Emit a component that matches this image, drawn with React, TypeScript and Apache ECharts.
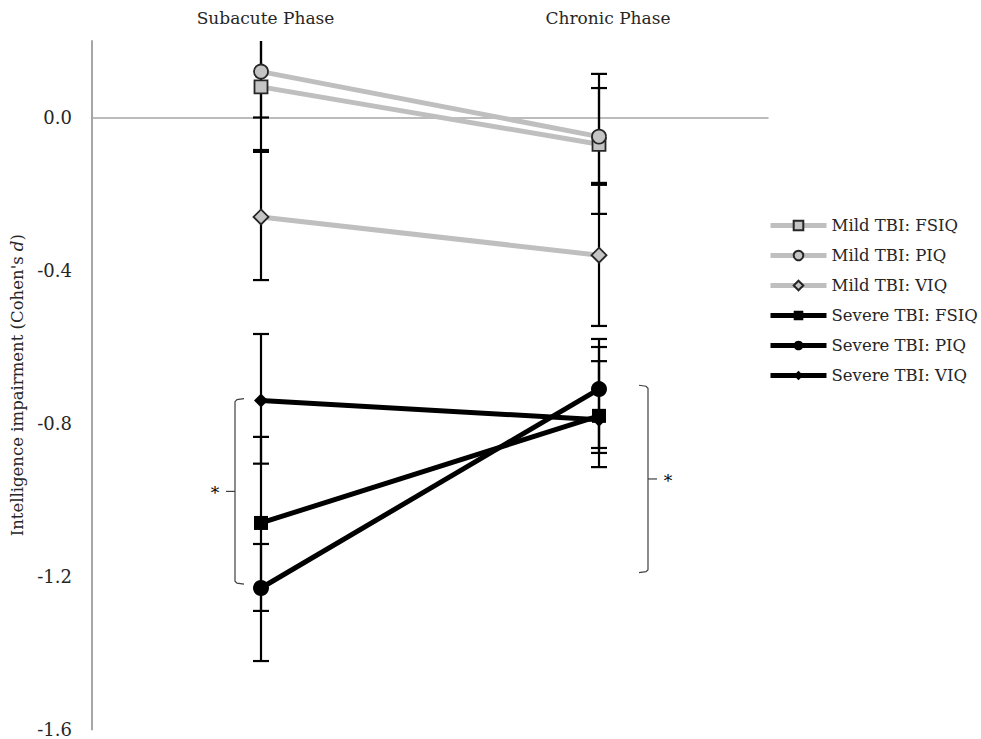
import React, { useEffect, useRef } from "react";
import * as echarts from "echarts";

const categories = ["Subacute Phase", "Chronic Phase"];
const yTicks = [-1.6, -1.2, -0.8, -0.4, 0.0];

const seriesNames = [
  "Mild TBI: FSIQ",
  "Mild TBI: PIQ",
  "Mild TBI: VIQ",
  "Severe TBI: FSIQ",
  "Severe TBI: PIQ",
  "Severe TBI: VIQ",
];

const mildFSIQ = [0.08, -0.07];
const mildPIQ = [0.12, -0.05];
const mildVIQ = [-0.26, -0.36];
const severeFSIQ = [-1.06, -0.78];
const severePIQ = [-1.23, -0.71];
const severeVIQ = [-0.74, -0.79];

// [upper, lower] per phase
const mildFSIQErr = [[0.245, -0.085], [0.114, -0.252]];
const mildPIQErr = [[0.24, 0.0], [0.077, -0.176]];
const mildVIQErr = [[-0.09, -0.425], [-0.171, -0.545]];
const severeFSIQErr = [[-0.835, -1.29], [-0.637, -0.914]];
const severePIQErr = [[-1.115, -1.421], [-0.579, -0.877]];
const severeVIQErr = [[-0.566, -0.905], [-0.6, -0.864]];

// significance brackets: [phase index, top value, bottom value]
const brackets = [
  [0, -0.735, -1.22],
  [1, -0.70, -1.19],
];
const bracketLabel = "*";

const FONT = "DejaVu Serif";
const TEXT = "#262626";

export default function App() {
  const ref = useRef<HTMLDivElement>(null);
  useEffect(() => {
    if (!ref.current) return;
    const chart = echarts.init(ref.current, undefined, { renderer: "svg" });

    const values = [mildFSIQ, mildPIQ, mildVIQ, severeFSIQ, severePIQ, severeVIQ];
    const errs = [mildFSIQErr, mildPIQErr, mildVIQErr, severeFSIQErr, severePIQErr, severeVIQErr];
    const symbols = ["rect", "circle", "diamond", "rect", "circle", "diamond"];
    const sizes = [13, 14, 15, 14, 16, 14];

    const lineSeries = values.map((v, i) => {
      const mild = i < 3;
      return {
        name: seriesNames[i],
        type: "line",
        data: v,
        symbol: symbols[i],
        symbolSize: sizes[i],
        z: mild ? 3 : 4,
        lineStyle: { color: mild ? "#bfbfbf" : "#000000", width: 5 },
        itemStyle: mild
          ? { color: "#c4c4c4", borderColor: "#262626", borderWidth: 1.8 }
          : { color: "#000000", borderColor: "#000000", borderWidth: 0 },
      };
    });

    const errData: number[][] = [];
    errs.forEach((e) => e.forEach((pair, ci) => errData.push([ci, pair[0], pair[1]])));

    const errSeries = {
      type: "custom",
      name: "err",
      z: 2,
      data: errData,
      encode: { x: 0, y: [1, 2] },
      renderItem: (params: any, api: any) => {
        const x = api.value(0);
        const pHi = api.coord([x, api.value(1)]);
        const pLo = api.coord([x, api.value(2)]);
        const cs = params.coordSys;
        const top = cs.y;
        const bottom = cs.y + cs.height;
        const px = pHi[0];
        const style = { stroke: "#000", lineWidth: 2.2 };
        const children: any[] = [
          {
            type: "line",
            shape: { x1: px, y1: Math.max(pHi[1], top), x2: px, y2: Math.min(pLo[1], bottom) },
            style,
          },
        ];
        [pHi[1], pLo[1]].forEach((yy) => {
          if (yy >= top && yy <= bottom) {
            children.push({ type: "line", shape: { x1: px - 8, y1: yy, x2: px + 8, y2: yy }, style });
          }
        });
        return { type: "group", children };
      },
    };

    chart.setOption({
      animation: false,
      backgroundColor: "#ffffff",
      grid: { left: 92, right: 213, top: 41, bottom: 9.5 },
      legend: {
        data: seriesNames,
        orient: "vertical",
        left: 763,
        top: 212,
        itemWidth: 56,
        itemHeight: 12,
        itemGap: 13,
        lineStyle: { width: 5 },
        textStyle: { fontFamily: FONT, fontSize: 16.5, color: TEXT },
      },
      xAxis: [
        {
          type: "category",
          data: categories,
          axisLine: { onZero: true, lineStyle: { color: "#a6a6a6", width: 1.5 } },
          axisTick: { show: false },
          axisLabel: { show: false },
        },
        {
          type: "category",
          data: categories,
          position: "top",
          axisLine: { show: false, onZero: false },
          axisTick: { show: false },
          axisLabel: {
            margin: 15,
            formatter: (v: string) => (v === categories[0] ? `{a|${v}}` : `{b|${v}}`),
            rich: {
              a: { fontFamily: FONT, fontSize: 17, color: TEXT, padding: [0, 0, 0, 9] },
              b: { fontFamily: FONT, fontSize: 17, color: TEXT, padding: [0, 0, 0, 18] },
            },
          },
        },
      ],
      yAxis: {
        type: "value",
        min: yTicks[0],
        max: 0.2,
        interval: 0.4,
        name: "Intelligence impairment (Cohen's {i|d})",
        nameLocation: "middle",
        nameRotate: 90,
        nameGap: 66,
        nameTextStyle: {
          fontFamily: FONT,
          fontSize: 16.5,
          color: TEXT,
          rich: { i: { fontFamily: FONT, fontSize: 16.5, color: TEXT, fontStyle: "italic" } },
        },
        axisLine: { show: true, lineStyle: { color: "#a6a6a6", width: 2 } },
        axisTick: { show: false },
        splitLine: { show: false },
        axisLabel: {
          margin: 20,
          fontFamily: FONT,
          fontSize: 18,
          color: TEXT,
          formatter: (v: number) => {
            const hit = yTicks.find((t) => Math.abs(t - v) < 1e-6);
            if (hit === undefined) return "";
            return Math.abs(hit) < 1e-9 ? "0.0" : hit.toFixed(1);
          },
        },
      },
      series: [errSeries, ...lineSeries],
    });

    // brackets
    const graphics: any[] = [];
    brackets.forEach(([ci, hi, lo], k) => {
      const pT = chart.convertToPixel({ xAxisIndex: 0, yAxisIndex: 0 }, [ci, hi]) as number[];
      const pB = chart.convertToPixel({ xAxisIndex: 0, yAxisIndex: 0 }, [ci, lo]) as number[];
      const dir = k === 0 ? -1 : 1;
      const bx = k === 0 ? pT[0] - 26 : pT[0] + 49;
      const endX = bx - dir * 9;
      const yT = pT[1];
      const yB = pB[1];
      const yM = (yT + yB) / 2;
      const style = { stroke: "#404040", lineWidth: 1.2, fill: null };
      graphics.push({
        type: "polyline",
        shape: { points: [[endX, yT], [bx - dir * 2, yT + 1], [bx, yT + 3], [bx, yB - 3], [bx - dir * 2, yB - 1], [endX, yB]] },
        style,
      });
      graphics.push({
        type: "line",
        shape: { x1: bx, y1: yM, x2: bx + dir * 9, y2: yM },
        style,
      });
      graphics.push({
        type: "text",
        x: bx + dir * 20,
        y: yM + 2,
        style: {
          text: bracketLabel,
          fontFamily: FONT,
          fontSize: 17,
          fill: "#000000",
          align: "center",
          verticalAlign: "middle",
        },
      });
    });
    chart.setOption({ graphic: graphics });

    return () => chart.dispose();
  }, []);

  return (
    <div
      ref={ref}
      style={{ position: "absolute", left: 0, top: 0, width: 981, height: 739 }}
    />
  );
}
